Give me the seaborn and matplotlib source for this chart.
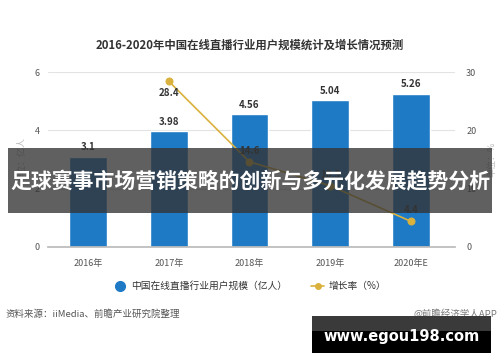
import numpy as np
import pandas as pd
import matplotlib
matplotlib.use('Agg')
import matplotlib.pyplot as plt
import seaborn as sns
from matplotlib.patches import Rectangle
from matplotlib.lines import Line2D

years = ['2016年', '2017年', '2018年', '2019年', '2020年E']
users = [3.1, 3.98, 4.56, 5.04, 5.26]
growth_years = ['2017年', '2018年', '2019年', '2020年E']
growth = [28.4, 14.6, 10.5, 4.4]

sns.set_theme(style='white')
plt.rcParams['font.family'] = ['Noto Sans CJK SC', 'DejaVu Sans']

bar_color = '#1f7ac6'
line_color = '#d9b13c'

df = pd.DataFrame({'year': years, 'users': users})
dg = pd.DataFrame({'year': growth_years, 'growth': growth})
dg['pos'] = [years.index(y) for y in growth_years]

fig = plt.figure(figsize=(5, 3.62), dpi=100)
ax = fig.add_axes([0.096, 0.318, 0.814, 0.483])

sns.barplot(data=df, x='year', y='users', color=bar_color, width=0.47,
            saturation=1, ax=ax)
ax.set_ylim(0, 6)
ax.set_xlim(-0.5, 4.55)
ax.set_yticks([0, 2, 4, 6])
ax.grid(axis='y', color='#e3e3e3', lw=0.8)
ax.set_axisbelow(True)
for s in ['top', 'right', 'left']:
    ax.spines[s].set_visible(False)
ax.spines['bottom'].set_color('#bbbbbb')
ax.tick_params(axis='both', labelsize=6.5, colors='#555555', length=0, pad=6)
ax.tick_params(axis='x', length=3, color='#bbbbbb')
ax.set_xlabel('')
ax.set_ylabel('单位：亿人', fontsize=6.5, color='#bbbbbb', labelpad=6)
for i, v in enumerate(users):
    ax.text(i, v + 0.15, f'{v:g}', ha='center', va='bottom', fontsize=7,
            fontweight='bold', color='#333333')

ax2 = ax.twinx()
sns.lineplot(data=dg, x='pos', y='growth', color=line_color, lw=1.2,
             marker='o', markersize=5, markeredgecolor=line_color, ax=ax2)
ax2.set_ylim(0, 30)
ax2.set_yticks([0, 10, 20, 30])
for s in ['top', 'right', 'left', 'bottom']:
    ax2.spines[s].set_visible(False)
ax2.tick_params(axis='y', labelsize=6.5, colors='#555555', length=0, pad=8)
ax2.set_xlabel('')
ax2.set_ylabel('单位：%', fontsize=6.5, color='#bbbbbb', labelpad=8)
for k, (p, v) in enumerate(zip(dg['pos'], growth)):
    if k == 0:
        ax2.text(p, v - 1.2, f'{v:g}', ha='center', va='top', fontsize=7,
                 fontweight='bold', color='#333333')
    else:
        ax2.text(p, v + 1.0, f'{v:g}', ha='center', va='bottom', fontsize=7,
                 fontweight='bold', color='#333333')

fig.text(0.5, 0.876, '2016-2020年中国在线直播行业用户规模统计及增长情况预测',
         ha='center', va='center', fontsize=8.2, fontweight='bold', color='#333333')

handles = [Line2D([0], [0], marker='o', color='none', markerfacecolor=bar_color,
                  markeredgecolor=bar_color, markersize=7),
           Line2D([0], [0], marker='o', color=line_color, markersize=4, lw=1.2)]
fig.legend(handles, ['中国在线直播行业用户规模（亿人）', '增长率（%）'],
           loc='center', bbox_to_anchor=(0.5, 0.21), ncol=2, frameon=False,
           fontsize=7, handlelength=1.3, columnspacing=2.5, handletextpad=0.5,
           labelcolor='#333333')

fig.text(0.01, 0.133, '资料来源：iiMedia、前瞻产业研究院整理', fontsize=6.8,
         color='#555555', va='center')
fig.text(0.995, 0.133, '@前瞻经济学人APP', fontsize=6.8, color='#777777',
         va='center', ha='right')

# overlay banner
fig.add_artist(Rectangle((0.016, 1 - 213 / 362), 0.968, 65 / 362,
                         transform=fig.transFigure, facecolor='#333333',
                         alpha=0.78, edgecolor='none', zorder=10))
fig.text(0.5, 1 - 182 / 362, '足球赛事市场营销策略的创新与多元化发展趋势分析',
         ha='center', va='center', fontsize=15, fontweight='bold',
         color='white', zorder=11)

fig.add_artist(Rectangle((0.624, 1 - 353 / 362), 0.358, 37 / 362,
                         transform=fig.transFigure, facecolor='black',
                         edgecolor='none', zorder=10))
fig.add_artist(Rectangle((0.624, 1 - 331 / 362), 0.358, 15 / 362,
                         transform=fig.transFigure, facecolor='#3a3a3a',
                         edgecolor='none', zorder=10))
fig.text(0.803, 1 - 337 / 362, 'www.egou198.com', ha='center', va='center',
         fontsize=10.5, fontweight='bold', color='white', zorder=11,
         family='DejaVu Sans')

fig.savefig('out.png', dpi=100)
